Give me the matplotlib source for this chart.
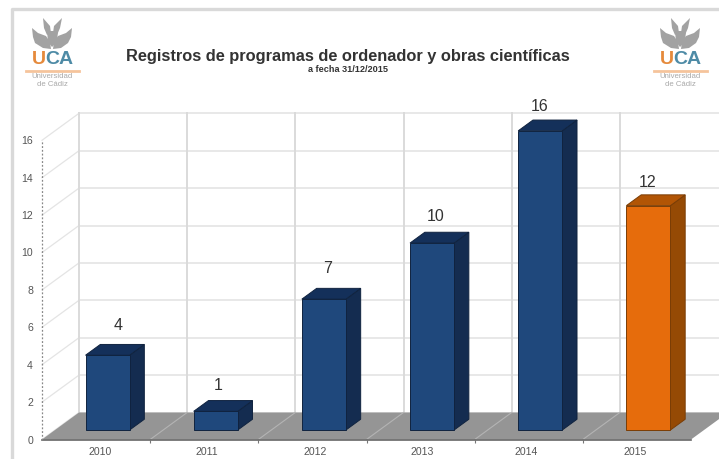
import matplotlib
matplotlib.use("Agg")
import matplotlib.pyplot as plt
from matplotlib.patches import Polygon
from matplotlib.lines import Line2D
import numpy as np

plt.rcParams['font.family'] = ['Liberation Sans', 'DejaVu Sans']

# Datos del grafico
anios = ["2010", "2011", "2012", "2013", "2014", "2015"]
registros = [4, 1, 7, 10, 16, 12]
marcas_y = [0, 2, 4, 6, 8, 10, 12, 14, 16]

# Colores de cada barra
colores_frente = ["#1f487c", "#1f487c", "#1f487c", "#1f487c", "#1f487c", "#e66c0c"]
colores_lado = ["#142c50", "#142c50", "#142c50", "#142c50", "#142c50", "#954a05"]
colores_tapa = ["#14305a", "#14305a", "#14305a", "#14305a", "#14305a", "#b25505"]

# Ajustes de etiquetas en pixeles (en el original no van alineadas)
etiqueta_dx = [11, 2, 4, 4, -1, -1]
etiqueta_dy = [29.5, 25.5, 30.5, 27, 24.5, 23.5]
anio_dx = [4, 3, 3, 2, -3, -2]

# ejes en pixeles: x=0 en 42 px, x=6 en 691 px, y=0 en 439.5 px
px_x = 108.17
px_y = 18.7

# Perspectiva: cuanto se desplaza la pared del fondo (en unidades de datos)
FONDO_X = 37 / px_x
FONDO_Y = 27 / px_y


def proy(x, y, d):
    return x + d * FONDO_X, y + d * FONDO_Y


fig = plt.figure(figsize=(7.19, 4.59), dpi=100, facecolor="white")

izq, der, arriba, abajo = 42, 719, 100, 439.5
ax = fig.add_axes([izq / 719, 1 - abajo / 459, (der - izq) / 719, (abajo - arriba) / 459])
ax.set_xlim(0, (der - izq) / px_x)
ax.set_ylim(0, (abajo - arriba) / px_y)
ax.patch.set_visible(False)
for s in ax.spines.values():
    s.set_visible(False)

# paredes
for v in marcas_y:
    x0, y0 = proy(0, v, 0)
    x1, y1 = proy(0, v, 1)
    x2, y2 = proy(7, v, 1)
    ax.plot([x0, x1], [y0, y1], color="#e4e4e4", lw=0.9, zorder=1, clip_on=False)
    ax.plot([x1, x2], [y1, y2], color="#e2e2e2", lw=1.1, zorder=1)
for i in range(7):
    x1, y1 = proy(i, 0, 1)
    x2, y2 = proy(i, 16, 1)
    ax.plot([x1, x2], [y1, y2], color="#dadada", lw=1.4, zorder=1)

# suelo
suelo = [proy(0, 0, 0), proy(6, 0, 0), proy(6, 0, 1), proy(7, 0, 1), proy(0, 0, 1)]
ax.add_patch(Polygon(suelo, closed=True, fc="#959595", ec="none", zorder=2))
for i in range(1, 6):
    x0, y0 = proy(i, 0, 0)
    x1, y1 = proy(i, 0, 1)
    ax.plot([x0, x1], [y0, y1], color="#b4b4b4", lw=0.8, zorder=2)

# barras en 3D
ancho = 0.407
d0, d1 = 0.35, 0.75
for i, v in enumerate(registros):
    xa = i + 0.5 - ancho / 2 - 0.014
    xb = xa + ancho
    frente = [proy(xa, 0, d0), proy(xb, 0, d0), proy(xb, v, d0), proy(xa, v, d0)]
    lado = [proy(xb, 0, d0), proy(xb, 0, d1), proy(xb, v, d1), proy(xb, v, d0)]
    tapa = [proy(xa, v, d0), proy(xb, v, d0), proy(xb, v, d1), proy(xa, v, d1)]
    borde = "#10233f" if i < 5 else "#7a3d05"
    for pts, c in ((lado, colores_lado[i]), (tapa, colores_tapa[i]), (frente, colores_frente[i])):
        ax.add_patch(Polygon(pts, closed=True, fc=c, ec=borde, lw=0.7, zorder=3 + i))
    lx, ly = proy((xa + xb) / 2, v, d0)
    ax.annotate(str(v), (lx, ly), xytext=(etiqueta_dx[i] * 0.72, etiqueta_dy[i] * 0.72),
                textcoords="offset points", ha="center", va="center",
                fontsize=11.5, color="#333333", zorder=20)

# eje inferior e izquierdo
ax.plot([0, 6], [0, 0], color="#666666", lw=1.2, zorder=4, clip_on=False)
ax.plot([0, 0], [0, 16], color="#888888", lw=0.9, ls=(0, (1.5, 1.5)), zorder=4, clip_on=False)
ax.set_xticks(np.arange(len(anios)) + 0.5 + np.array(anio_dx) / px_x)
ax.set_xticklabels(anios, fontsize=7.6, color="#555555")
ax.set_xticks(np.arange(1, 6), minor=True)
ax.tick_params(axis="x", which="major", length=0, pad=5.5)
ax.tick_params(axis="x", which="minor", length=2.5, color="#777777", width=0.8)
ax.set_yticks(marcas_y)
ax.set_yticklabels([str(v) for v in marcas_y], fontsize=7.6, color="#555555")
ax.tick_params(axis="y", length=0, pad=6.5)

# capa en pixeles para marco y logos
deco = fig.add_axes([0, 0, 1, 1], zorder=-1)
deco.set_xlim(0, 719)
deco.set_ylim(459, 0)
deco.axis("off")
deco.add_line(Line2D([11.5, 11.5, 719], [459, 9, 9], color="#d9d9d9", lw=2.4))


def logo(ox):
    gris = "#a2a2a2"
    alas = [
        [(32, 28), (38, 33), (46, 36), (50, 42), (51, 49), (43, 48), (35, 43), (33, 37)],
        [(72, 28), (71, 37), (68, 43), (61, 48), (53, 49), (54, 42), (58, 36), (66, 33)],
        [(43, 18), (50, 26), (51, 33), (47, 35), (44, 28)],
        [(62, 18), (60, 28), (57, 35), (53, 33), (54, 26)],
        [(47, 31), (58, 31), (57, 42), (52, 47), (48, 42)],
    ]
    for a in alas:
        deco.add_patch(Polygon([(x + ox, y) for x, y in a], closed=True, fc=gris, ec="none"))
    deco.text(ox + 31.5, 60, "U", color="#e58a3c", fontsize=14, fontweight="bold", va="center", ha="left")
    deco.text(ox + 45.5, 60, "CA", color="#4e8ba6", fontsize=14, fontweight="bold", va="center", ha="left")
    deco.add_line(Line2D([ox + 26, ox + 79], [70.5, 70.5], color="#f5c49c", lw=2))
    deco.text(ox + 52.5, 76.5, "Universidad", color="#a8a8a8", fontsize=5.6, ha="center", va="center")
    deco.text(ox + 52.5, 84, "de Cádiz", color="#a8a8a8", fontsize=5.6, ha="center", va="center")


logo(0)
logo(628)

fig.text(348 / 719, 1 - 56.5 / 459, "Registros de programas de ordenador y obras científicas",
         ha="center", va="center", fontsize=11.75, fontweight="bold", color="#333333")
fig.text(348 / 719, 1 - 70 / 459, "a fecha 31/12/2015",
         ha="center", va="center", fontsize=6.6, fontweight="bold", color="#333333")

fig.savefig("out.png", dpi=100)
